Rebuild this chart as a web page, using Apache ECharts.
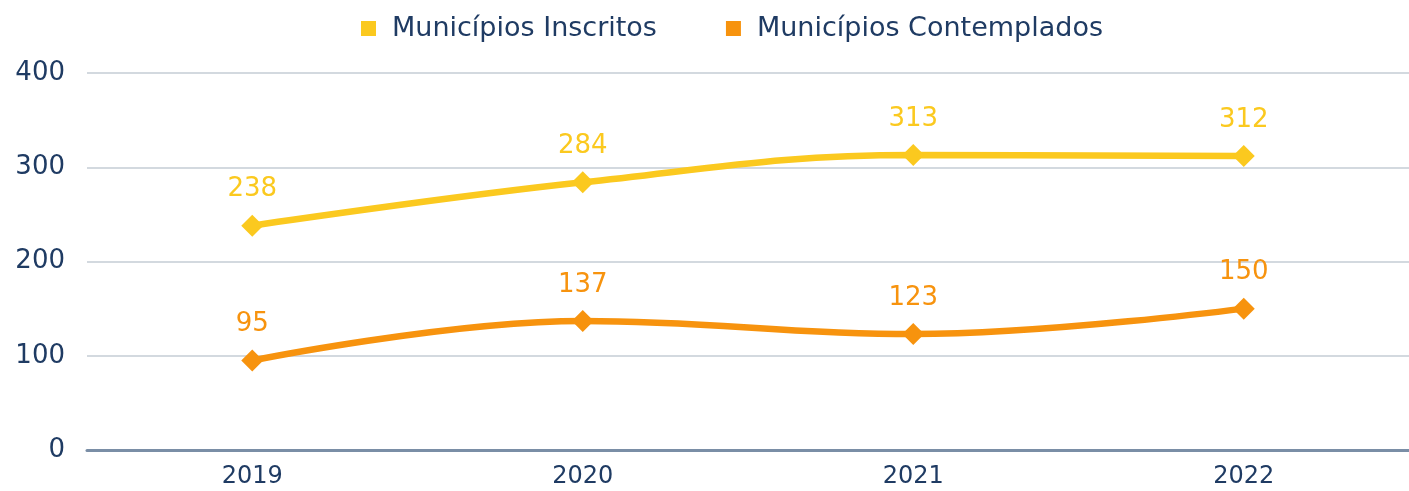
<!DOCTYPE html>
<html>
<head>
<meta charset="utf-8">
<script src="https://cdn.jsdelivr.net/npm/echarts@6/dist/echarts.min.js"></script>
<style>
  html, body { margin: 0; padding: 0; background: #fff; }
  #chart { width: 1409px; height: 491px; }
</style>
</head>
<body>
<div id="chart"></div>
<script>
const years = ['2019', '2020', '2021', '2022'];
const inscritos = [238, 284, 313, 312];
const contemplados = [95, 137, 123, 150];

const textColor = '#1F3B63';
const yellow = '#FBC91F';
const orange = '#F7930E';
const font = 'DejaVu Sans';

const chart = echarts.init(document.getElementById('chart'));

const makeSeries = (name, data, color) => ({
    name,
    type: 'line',
    data,
    smooth: 0.4,
    symbol: 'diamond',
    symbolSize: 22,
    lineStyle: { width: 6.5, color },
    itemStyle: { color },
    label: {
        show: true,
        position: 'top',
        distance: 12,
        color,
        fontSize: 26,
        fontFamily: font
    }
});

chart.setOption({
    animation: false,
    legend: {
        top: 10,
        left: 356,
        itemWidth: 15,
        itemHeight: 15,
        itemGap: 69,
        icon: 'rect',
        textStyle: { color: textColor, fontSize: 27, fontFamily: font, padding: [0, 0, 0, 11] },
        data: ['Municípios Inscritos', 'Municípios Contemplados']
    },
    grid: { left: 87, right: 0, top: 73, bottom: 41 },
    xAxis: {
        type: 'category',
        data: years,
        axisTick: { show: false },
        axisLine: { lineStyle: { color: '#7A8EA6', width: 3 } },
        axisLabel: { color: textColor, fontSize: 24, fontFamily: font, margin: 15 }
    },
    yAxis: {
        type: 'value',
        min: 0,
        max: 400,
        interval: 100,
        axisLabel: { color: textColor, fontSize: 26, fontFamily: font, margin: 22 },
        splitLine: { lineStyle: { color: '#C5CCD5', width: 1.5 } },
        axisLine: { show: false },
        axisTick: { show: false }
    },
    series: [
        makeSeries('Municípios Inscritos', inscritos, yellow),
        makeSeries('Municípios Contemplados', contemplados, orange)
    ]
});
</script>
</body>
</html>
